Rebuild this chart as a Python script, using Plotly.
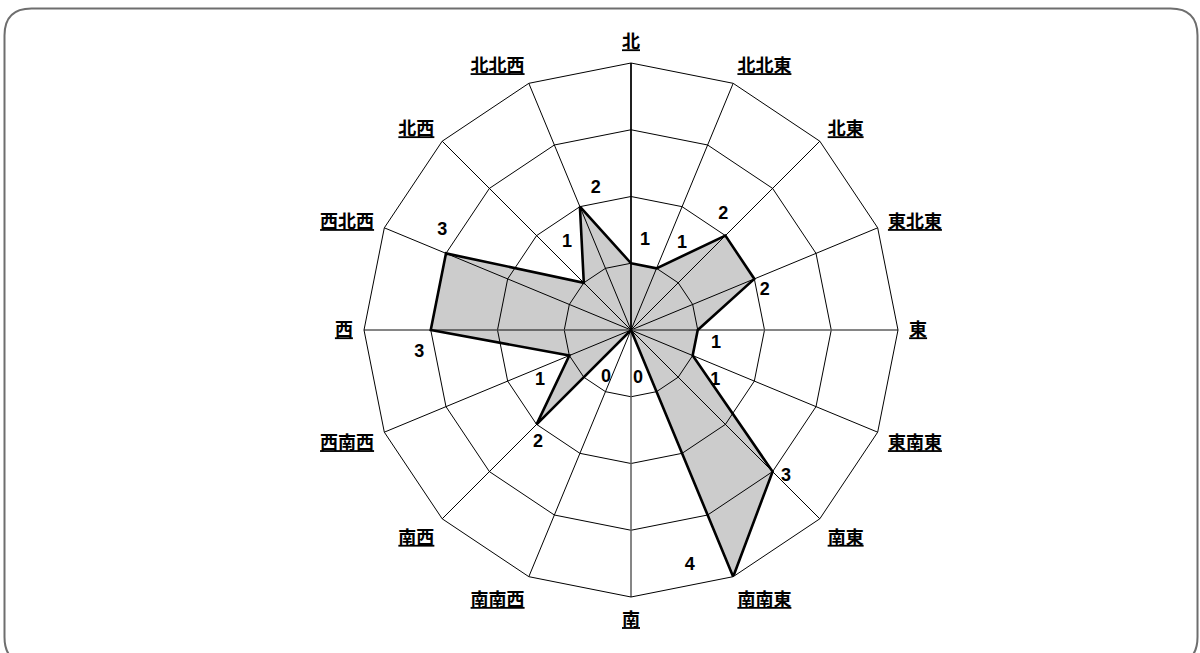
import plotly.graph_objects as go

directions = ["北", "北北東", "北東", "東北東", "東", "東南東", "南東", "南南東",
              "南", "南南西", "南西", "西南西", "西", "西北西", "北西", "北北西"]
counts = [1, 1, 2, 2, 1, 1, 3, 4, 0, 0, 2, 1, 3, 3, 1, 2]
ring_values = [1, 2, 3, 4]

# label placement offsets (style): radial offset, angular offset (deg)
label_dr = [0.36, 0.51, 0.21, 0.09, 0.29, 0.47, 0.19, -0.36, 0.73, 0.81, 0.19, 0.56, 0.19, 0.20, 0.62, 0.19]
label_dth = [8.8, 7.9, -6.3, 5.9, 8.7, 8.3, -1.7, 8.5, -8.3, 5.0, -5.5, -6.5, -6.0, 5.4, 8.7, 8.5]

n = len(directions)
step = 360.0 / n
angles = [i * step for i in range(n)]
rmax = max(ring_values)

W, H = 1200, 653
cx, cy, R = 631, 330, 267
dom = dict(x=[(cx - R) / W, (cx + R) / W], y=[(H - cy - R) / H, (H - cy + R) / H])

fig = go.Figure()

# gray E-W and S spokes
fig.add_trace(go.Scatterpolar(
    r=[rmax, 0, rmax, None, 0, rmax],
    theta=["東", "東", "西", None, "南", "南"],
    mode="lines", line=dict(color="rgb(140,140,140)", width=1),
    hoverinfo="skip", showlegend=False, subplot="polar"))

fig.add_trace(go.Scatterpolar(
    r=counts + counts[:1], theta=directions + directions[:1],
    mode="lines", fill="toself",
    fillcolor="rgba(0,0,0,0.2)",
    line=dict(color="black", width=2.6),
    showlegend=False, subplot="polar"))

fig.add_trace(go.Scatterpolar(
    r=[c + d for c, d in zip(counts, label_dr)],
    theta=[a + d for a, d in zip(angles, label_dth)],
    mode="text", text=[f"<b>{c}</b>" for c in counts],
    textfont=dict(family="Liberation Sans", size=18, color="black"),
    textposition="middle center",
    showlegend=False, hoverinfo="skip", subplot="polar2"))

fig.update_layout(
    width=W, height=H,
    margin=dict(l=0, r=0, t=0, b=0),
    paper_bgcolor="white",
    polar=dict(
        domain=dom,
        bgcolor="white",
        gridshape="linear",
        radialaxis=dict(range=[0, rmax], tickvals=ring_values, showticklabels=False,
                        ticks="", showline=True, linecolor="black", linewidth=1.5,
                        gridcolor="black", gridwidth=0.8, angle=90),
        angularaxis=dict(type="category", categoryarray=directions,
                         rotation=90, direction="clockwise",
                         ticktext=[f"<b><u>{d}</u></b>" for d in directions],
                         tickvals=directions,
                         tickfont=dict(family="Noto Sans CJK JP", size=18, color="black"),
                         ticks="outside", ticklen=7, tickcolor="rgba(0,0,0,0)",
                         showline=True, linecolor="black", linewidth=1,
                         gridcolor="black", gridwidth=0.8),
    ),
    polar2=dict(
        domain=dom,
        bgcolor="rgba(0,0,0,0)",
        radialaxis=dict(range=[0, rmax], visible=False),
        angularaxis=dict(rotation=90, direction="clockwise", visible=False),
    ),
)

# rounded frame
x0, x1, y0, y1, rr = 4.5, 1197.5, 8.5, 664, 27
def px(x, y):
    return f"{x / W:.5f},{1 - y / H:.5f}"
path = (f"M {px(x0 + rr, y0)} L {px(x1 - rr, y0)} Q {px(x1, y0)} {px(x1, y0 + rr)} "
        f"L {px(x1, y1 - rr)} Q {px(x1, y1)} {px(x1 - rr, y1)} "
        f"L {px(x0 + rr, y1)} Q {px(x0, y1)} {px(x0, y1 - rr)} "
        f"L {px(x0, y0 + rr)} Q {px(x0, y0)} {px(x0 + rr, y0)} Z")
fig.add_shape(type="path", xref="paper", yref="paper", path=path,
              line=dict(color="rgb(110,110,110)", width=2), layer="below")

fig.write_html("out.html", config={"displayModeBar": False},
               post_script="document.body.style.margin='0';")
